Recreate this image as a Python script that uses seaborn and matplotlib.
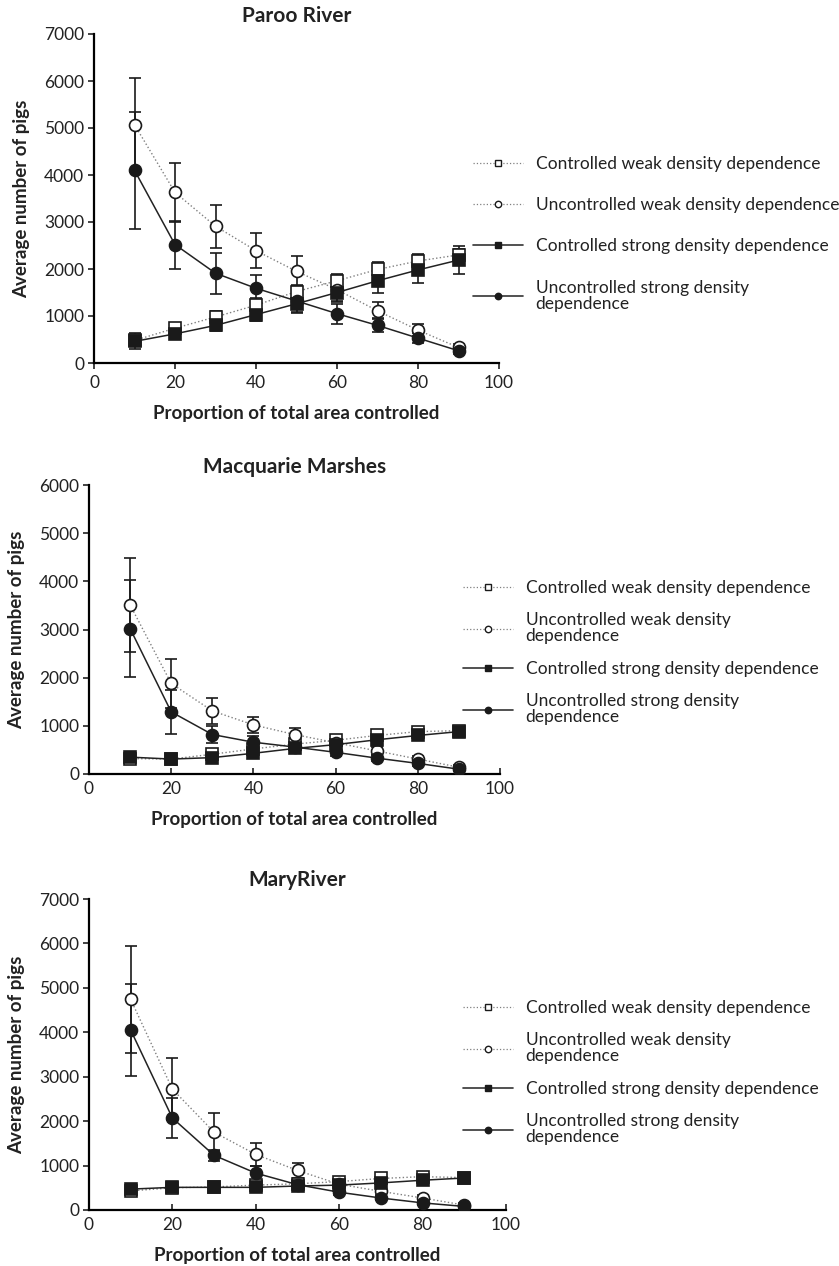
import matplotlib
matplotlib.use("Agg")
import matplotlib.pyplot as plt
from matplotlib.lines import Line2D
import seaborn as sns

sns.set_theme(style="white")
plt.rcParams["font.family"] = ["Lato", "DejaVu Sans"]

# Proportion of total area controlled (%)
area = [10, 20, 30, 40, 50, 60, 70, 80, 90]

# Paroo River: mean pig numbers and error bars
paroo_cw = [480, 740, 980, 1230, 1520, 1750, 1990, 2170, 2300]
paroo_uw = [5070, 3630, 2910, 2390, 1950, 1560, 1110, 700, 330]
paroo_cs = [460, 620, 800, 1030, 1260, 1500, 1750, 1980, 2190]
paroo_us = [4100, 2520, 1910, 1590, 1320, 1050, 800, 530, 260]
paroo_cw_err = [120, 100, 120, 150, 150, 150, 150, 150, 130]
paroo_uw_err = [1000, 630, 460, 370, 320, 250, 180, 120, 80]
paroo_cs_err = [170, 110, 120, 130, 190, 200, 250, 280, 300]
paroo_us_err = [1250, 510, 440, 290, 230, 210, 150, 100, 60]

# Macquarie Marshes
macq_cw = [320, 310, 410, 520, 620, 700, 800, 880, 900]
macq_uw = [3510, 1880, 1310, 1020, 820, 650, 480, 310, 140]
macq_cs = [350, 310, 340, 430, 530, 610, 710, 800, 880]
macq_us = [3020, 1290, 820, 660, 560, 450, 330, 220, 100]
macq_cw_err = [60, 50, 60, 80, 80, 80, 80, 70, 60]
macq_uw_err = [980, 500, 270, 160, 130, 100, 80, 60, 40]
macq_cs_err = [70, 60, 60, 70, 80, 80, 80, 80, 70]
macq_us_err = [1010, 450, 170, 120, 90, 80, 60, 50, 40]

# Mary River
mary_cw = [430, 500, 520, 560, 590, 640, 710, 750, 730]
mary_uw = [4740, 2720, 1750, 1250, 890, 580, 420, 270, 110]
mary_cs = [470, 510, 510, 510, 540, 560, 610, 670, 720]
mary_us = [4050, 2070, 1230, 830, 570, 400, 270, 160, 80]
mary_cw_err = [60, 60, 60, 70, 70, 70, 70, 60, 60]
mary_uw_err = [1200, 690, 430, 260, 170, 110, 80, 60, 40]
mary_cs_err = [70, 70, 70, 70, 70, 70, 70, 70, 70]
mary_us_err = [1030, 440, 130, 150, 90, 70, 50, 40, 30]

labels_wide = ["Controlled weak density dependence",
               "Uncontrolled weak density dependence",
               "Controlled strong density dependence",
               "Uncontrolled strong density\ndependence"]
labels_narrow = ["Controlled weak density dependence",
                 "Uncontrolled weak density\ndependence",
                 "Controlled strong density dependence",
                 "Uncontrolled strong density\ndependence"]

# line / marker style per series: weak = dotted grey, strong = solid black
STYLES = [
    dict(ls=":", lc="#808080", lw=1.0, marker="s", fc="white"),
    dict(ls=":", lc="#808080", lw=1.0, marker="o", fc="white"),
    dict(ls="-", lc="#222222", lw=1.1, marker="s", fc="#1a1a1a"),
    dict(ls="-", lc="#222222", lw=1.1, marker="o", fc="#1a1a1a"),
]

W, H = 839, 1266
FS = 12.5


def px_axes(fig, x0, x1, ytop, ybot):
    return fig.add_axes([x0 / W, 1 - ybot / H, (x1 - x0) / W, (ybot - ytop) / H])


def draw_panel(fig, rect, title, ymax, series, errors, labels, leg_xy,
               leg_spacing, xtick_dir):
    ax = px_axes(fig, *rect)
    # error bars behind the markers
    for vals, err in zip(series, errors):
        ax.errorbar(area, vals, yerr=err, fmt="none", ecolor="#1a1a1a",
                    elinewidth=1.2, capsize=4, capthick=1.2, zorder=2)
    # connecting lines
    for vals, st in zip(series, STYLES):
        sns.lineplot(x=area, y=vals, ax=ax, color=st["lc"], linestyle=st["ls"],
                     linewidth=st["lw"], zorder=3)
    # markers on top
    for vals, st in zip(series, STYLES):
        ms = 8.0 if st["marker"] == "s" else 8.6
        sns.lineplot(x=area, y=vals, ax=ax, linestyle="none", marker=st["marker"],
                     markersize=ms, markerfacecolor=st["fc"],
                     markeredgecolor="#1a1a1a", markeredgewidth=1.2, zorder=4)

    ax.set_xlim(0, 100)
    ax.set_ylim(0, ymax)
    ax.set_xticks(range(0, 101, 20))
    ax.set_yticks(range(0, ymax + 1, 1000))
    for side in ("top", "right"):
        ax.spines[side].set_visible(False)
    for side in ("left", "bottom"):
        ax.spines[side].set_color("black")
        ax.spines[side].set_linewidth(1.6)
    ax.tick_params(axis="y", direction="out", length=4, width=1.2,
                   labelsize=FS, pad=3, left=True, colors="#222222")
    ax.tick_params(axis="x", direction=xtick_dir, length=4, width=1.2,
                   labelsize=FS, pad=5, bottom=True, colors="#222222")
    ax.set_title(title, fontsize=15, fontweight="bold", pad=9, color="#222222")
    ax.set_xlabel("Proportion of total area controlled", fontsize=13.5,
                  fontweight="bold", labelpad=10, color="#222222")
    ax.set_ylabel("Average number of pigs", fontsize=13.5, fontweight="bold",
                  labelpad=10, color="#222222")

    handles = []
    for st in STYLES:
        handles.append(Line2D([], [], color=st["lc"] if st["ls"] == ":" else "#333333",
                              linestyle=st["ls"], linewidth=1.2 if st["ls"] == "-" else 0.9,
                              marker=st["marker"], markersize=4.6,
                              markerfacecolor=st["fc"], markeredgecolor="#1a1a1a",
                              markeredgewidth=1.0))
    leg = ax.legend(handles, labels, loc="upper left",
                    bbox_to_anchor=(leg_xy[0] / W, 1 - leg_xy[1] / H),
                    bbox_transform=fig.transFigure, frameon=False,
                    fontsize=FS, handlelength=2.9, handletextpad=0.7,
                    labelspacing=leg_spacing, borderpad=0, borderaxespad=0)
    for t in leg.get_texts():
        t.set_color("#222222")
        t.set_linespacing(1.0)
    return ax


fig = plt.figure(figsize=(W / 100, H / 100), dpi=100)
fig.patch.set_facecolor("white")

draw_panel(fig, (94, 499, 34, 363), "Paroo River", 7000,
           [paroo_cw, paroo_uw, paroo_cs, paroo_us],
           [paroo_cw_err, paroo_uw_err, paroo_cs_err, paroo_us_err],
           labels_wide, (473, 156), 1.45, "out")

draw_panel(fig, (89, 500, 485, 774), "Macquarie Marshes", 6000,
           [macq_cw, macq_uw, macq_cs, macq_us],
           [macq_cw_err, macq_uw_err, macq_cs_err, macq_us_err],
           labels_narrow, (463, 580), 0.95, "in")

draw_panel(fig, (89, 506, 899, 1210), "MaryRiver", 7000,
           [mary_cw, mary_uw, mary_cs, mary_us],
           [mary_cw_err, mary_uw_err, mary_cs_err, mary_us_err],
           labels_narrow, (463, 1000), 0.95, "in")

fig.savefig("out.png", dpi=100, facecolor="white")
